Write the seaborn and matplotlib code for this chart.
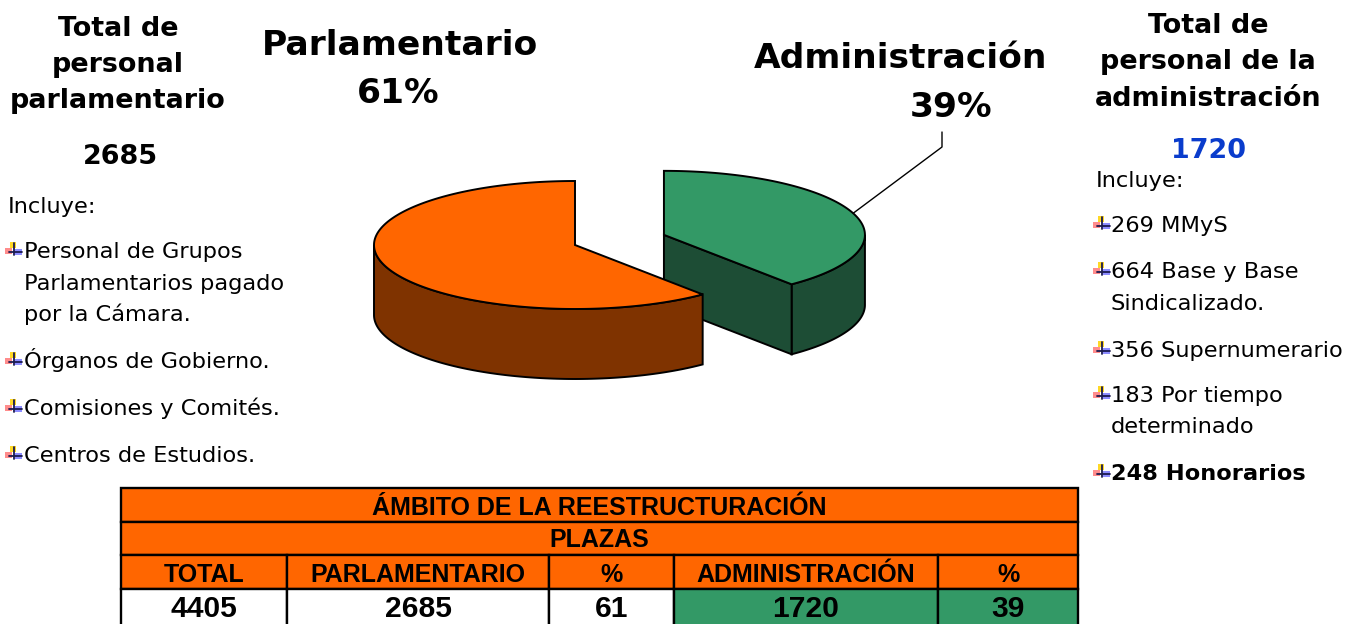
import numpy as np
import matplotlib
matplotlib.use('Agg')
import matplotlib.pyplot as plt
from matplotlib.patches import Polygon, Rectangle
import seaborn as sns

sns.set_theme(style='white')
plt.rcParams['font.family'] = ['DejaVu Sans']
plt.rcParams['text.color'] = 'black'

# datos
sectores = ['Parlamentario', 'Administración']
plazas = [2685, 1720]
porcentajes = [61, 39]
explode = [0, 0.47]
colores_top = ['#FF6600', '#339966']
colores_lado = ['#7F3300', '#1D4D35']

titulo_parl = ['Total de', 'personal', 'parlamentario']
titulo_adm = ['Total de', 'personal de la', 'administración']

# (texto, es_bullet, negrita)
incluye_parl = [('Personal de Grupos', True, False),
                ('Parlamentarios pagado', False, False),
                ('por la Cámara.', False, False),
                ('Órganos de Gobierno.', True, False),
                ('Comisiones y Comités.', True, False),
                ('Centros de Estudios.', True, False)]
incluye_adm = [('269 MMyS', True, False),
               ('664 Base y Base', True, False),
               ('Sindicalizado.', False, False),
               ('356 Supernumerario', True, False),
               ('183 Por tiempo', True, False),
               ('determinado', False, False),
               ('248 Honorarios', True, True)]

tabla_titulo = 'ÁMBITO DE LA REESTRUCTURACIÓN'
tabla_sub = 'PLAZAS'
tabla_header = ['TOTAL', 'PARLAMENTARIO', '%', 'ADMINISTRACIÓN', '%']
tabla_valores = [sum(plazas), plazas[0], porcentajes[0], plazas[1], porcentajes[1]]
tabla_fondo = ['white', 'white', 'white', '#339966', '#339966']

W, H = 1357, 624
fig = plt.figure(figsize=(W / 100, H / 100), dpi=100)
ax = fig.add_axes([0, 0, 1, 1])
ax.set_xlim(0, W)
ax.set_ylim(H, 0)
ax.axis('off')

PX = 0.72  # px -> pt


def bullet(x0, yc):
    ax.add_patch(Rectangle((x0 + 3, yc - 8), 6, 6, color='#FFD200', alpha=0.85, lw=0))
    ax.add_patch(Rectangle((x0 - 2, yc - 2), 7, 6, color='#FF4040', alpha=0.6, lw=0))
    ax.add_patch(Rectangle((x0 + 8, yc - 1), 7, 6, color='#4040FF', alpha=0.6, lw=0))
    ax.plot([x0 + 7, x0 + 7], [yc - 7, yc + 5], color='#1A1A50', lw=1.3)
    ax.plot([x0 + 2, x0 + 15], [yc + 2, yc + 2], color='#1A1A50', lw=1.3)


# ---- pie 3D ----
CX, CY, A, B, HT = 575, 245, 201, 64, 70


def rim(cx, cy, ang):
    r = np.radians(ang)
    return cx + A * np.cos(r), cy - B * np.sin(r)


fracs = np.array(plazas) / sum(plazas)
angulos = []
t = 90.0
for f in fracs:
    angulos.append((t, t + 360 * f))
    t += 360 * f

centros = []
for (t1, t2), e in zip(angulos, explode):
    mid = np.radians((t1 + t2) / 2)
    centros.append((CX + e * A * np.cos(mid), CY - e * B * np.sin(mid)))

for i in reversed(range(len(plazas))):
    t1, t2 = angulos[i]
    cx, cy = centros[i]
    z = 2 + (len(plazas) - i) * 3
    # lado exterior visible
    for k in (-360, 0, 360):
        lo, hi = max(t1, 180 + k), min(t2, 360 + k)
        if lo < hi:
            aa = np.linspace(lo, hi, 120)
            top = [rim(cx, cy, a) for a in aa]
            bot = [(x, y + HT) for x, y in top[::-1]]
            ax.add_patch(Polygon(top + bot, closed=True, fc=colores_lado[i],
                                 ec='black', lw=1.4, zorder=z))
    # caras radiales
    for ang, normal in ((t1, t1 - 90), (t2, t2 + 90)):
        if np.sin(np.radians(normal)) < -1e-6:
            px, py = rim(cx, cy, ang)
            ax.add_patch(Polygon([(cx, cy), (px, py), (px, py + HT), (cx, cy + HT)],
                                 closed=True, fc=colores_lado[i], ec='black', lw=1.4,
                                 zorder=z + 1))
    aa = np.linspace(t1, t2, 240)
    top = [(cx, cy)] + [rim(cx, cy, a) for a in aa]
    ax.add_patch(Polygon(top, closed=True, fc=colores_top[i], ec='black', lw=1.4,
                         zorder=z + 2))

# linea guia administracion
t1, t2 = angulos[1]
lx, ly = rim(*centros[1], (t1 + t2) / 2)
ax.plot([lx, 942, 942], [ly, 147, 132], color='black', lw=1, zorder=20)

# etiquetas del pie
big = 34.5 * PX
ax.text(400, 55, sectores[0], fontsize=big, fontweight='bold', ha='center', va='baseline')
ax.text(398, 103, f'{porcentajes[0]}%', fontsize=big, fontweight='bold', ha='center', va='baseline')
ax.text(901, 68, sectores[1], fontsize=big, fontweight='bold', ha='center', va='baseline')
ax.text(951, 117, f'{porcentajes[1]}%', fontsize=big, fontweight='bold', ha='center', va='baseline')

# ---- textos laterales ----
tit = 27 * PX
reg = 22.5 * PX
for s, yb in zip(titulo_parl, [36, 72, 108]):
    ax.text(118, yb, s, fontsize=tit, fontweight='bold', ha='center', va='baseline')
ax.text(120, 164, f'{plazas[0]}', fontsize=tit, fontweight='bold', ha='center', va='baseline')
ax.text(8, 213, 'Incluye:', fontsize=reg, va='baseline')
for (s, b, bold), yb in zip(incluye_parl, [258, 290, 321, 368, 415, 462]):
    if b:
        bullet(7, yb - 8)
    ax.text(24, yb, s, fontsize=reg, va='baseline', fontweight='bold' if bold else 'normal')

for s, yb in zip(titulo_adm, [33, 69, 106]):
    ax.text(1208, yb, s, fontsize=tit, fontweight='bold', ha='center', va='baseline')
ax.text(1209, 158, f'{plazas[1]}', fontsize=tit, fontweight='bold', ha='center',
        va='baseline', color='#0A3CCC')
ax.text(1096, 187, 'Incluye:', fontsize=reg, va='baseline')
for (s, b, bold), yb in zip(incluye_adm, [232, 278, 310, 357, 402, 433, 480]):
    if b:
        bullet(1095, yb - 8)
    ax.text(1111, yb, s, fontsize=reg, va='baseline', fontweight='bold' if bold else 'normal')

# ---- tabla ----
cols = [121, 287, 549, 674, 938, 1078]
filas = [488, 522, 555, 589, 626]
tf = ['Liberation Sans', 'DejaVu Sans']
ORANGE = '#FF6600'
for r in range(2):
    ax.add_patch(Rectangle((cols[0], filas[r]), cols[-1] - cols[0], filas[r + 1] - filas[r],
                           fc=ORANGE, ec='black', lw=1.7, zorder=30))
for c in range(5):
    ax.add_patch(Rectangle((cols[c], filas[2]), cols[c + 1] - cols[c], filas[3] - filas[2],
                           fc=ORANGE, ec='black', lw=1.7, zorder=30))
    ax.add_patch(Rectangle((cols[c], filas[3]), cols[c + 1] - cols[c], filas[4] - filas[3],
                           fc=tabla_fondo[c], ec='black', lw=1.7, zorder=30))
    xm = (cols[c] + cols[c + 1]) / 2
    ax.text(xm, 582, tabla_header[c], fontsize=25 * PX, fontweight='bold', family=tf,
            ha='center', va='baseline', zorder=31)
    ax.text(xm, 617, f'{tabla_valores[c]}', fontsize=30 * PX, fontweight='bold', family=tf,
            ha='center', va='baseline', zorder=31)
xm = (cols[0] + cols[-1]) / 2
ax.text(xm, 515, tabla_titulo, fontsize=25 * PX, fontweight='bold', family=tf,
        ha='center', va='baseline', zorder=31)
ax.text(xm, 547, tabla_sub, fontsize=25 * PX, fontweight='bold', family=tf,
        ha='center', va='baseline', zorder=31)

fig.savefig('out.png', dpi=100, facecolor='white')
